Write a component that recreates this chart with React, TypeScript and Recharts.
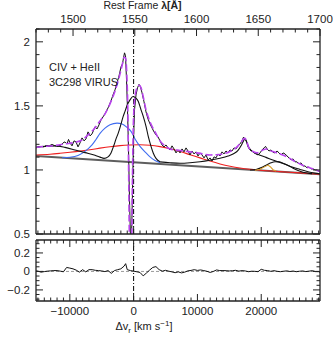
import React from 'react';
import { ComposedChart, Line, XAxis, YAxis, ReferenceLine } from 'recharts';

const C_KMS = 299792.458;
const LAM0 = 1549.06;
const toVel = (lam: number) => (lam / LAM0 - 1) * C_KMS;
const toLam = (v: number) => LAM0 * (1 + v / C_KMS);

const V_MIN = toVel(1470);
const V_MAX = toVel(1700);

// observed spectrum [velocity km/s, normalised flux]
const spectrum = [
  [-15295, 1.172], [-14984, 1.18], [-14514, 1.184], [-14044, 1.18], [-13730, 1.191], [-13260, 1.188],
  [-12790, 1.199], [-12320, 1.188], [-11850, 1.184], [-11380, 1.195], [-11066, 1.211], [-10753, 1.219],
  [-10439, 1.203], [-10204, 1.238], [-9969, 1.211], [-9655, 1.188], [-9342, 1.227], [-9028, 1.219],
  [-8715, 1.18], [-8401, 1.211], [-8088, 1.25], [-7774, 1.227], [-7461, 1.242], [-7147, 1.297],
  [-6834, 1.266], [-6520, 1.281], [-6050, 1.336], [-5737, 1.32], [-5423, 1.352], [-5110, 1.391],
  [-4796, 1.414], [-4483, 1.438], [-4013, 1.484], [-3542, 1.539], [-3229, 1.586], [-2915, 1.625],
  [-2602, 1.68], [-2288, 1.734], [-1975, 1.805], [-1740, 1.828], [-1583, 1.875], [-1426, 1.914],
  [-1270, 1.891], [-1113, 1.703], [-956, 1.469], [-799, 1.156], [-643, 0.766], [-486, 0.453],
  [-329, 0.453], [-172, 0.844], [-16, 1.234], [141, 1.469], [376, 1.586], [611, 1.641],
  [846, 1.668], [1081, 1.648], [1317, 1.602], [1630, 1.531], [1944, 1.453], [2257, 1.398],
  [2571, 1.359], [2884, 1.328], [3198, 1.297], [3511, 1.273], [3825, 1.258], [4138, 1.227],
  [4451, 1.195], [4765, 1.18], [5078, 1.195], [5392, 1.172], [5705, 1.156], [6019, 1.188],
  [6332, 1.164], [6646, 1.133], [6959, 1.156], [7273, 1.133], [7586, 1.164], [7900, 1.141],
  [8213, 1.172], [8527, 1.148], [8840, 1.117], [9154, 1.148], [9467, 1.125], [9781, 1.141],
  [10094, 1.109], [10408, 1.133], [10721, 1.117], [11034, 1.094], [11348, 1.117], [11661, 1.078],
  [11975, 1.094], [12289, 1.07], [12602, 1.102], [12916, 1.094], [13229, 1.125], [13542, 1.109],
  [13856, 1.141], [14169, 1.125], [14483, 1.148], [14796, 1.133], [15110, 1.156], [15423, 1.148],
  [15737, 1.172], [16050, 1.164], [16364, 1.188], [16677, 1.203], [16991, 1.227], [17226, 1.256],
  [17461, 1.242], [17696, 1.219], [17931, 1.18], [18245, 1.156], [18558, 1.148], [18872, 1.133],
  [19185, 1.125], [19499, 1.117], [19812, 1.133], [20126, 1.156], [20439, 1.172], [20674, 1.184],
  [20909, 1.164], [21223, 1.148], [21536, 1.156], [21850, 1.137], [22163, 1.133], [22477, 1.148],
  [22790, 1.133], [23104, 1.117], [23417, 1.133], [23731, 1.125], [24044, 1.109], [24358, 1.094],
  [24671, 1.078], [24985, 1.086], [25298, 1.063], [25612, 1.063], [25925, 1.047], [26239, 1.055],
  [26552, 1.031], [26866, 1.031], [27179, 1.016], [27493, 1.023], [27806, 1.008], [28120, 1.008],
  [28433, 1.0], [28747, 1.0], [29060, 0.988], [29212, 0.984],
];

// total model (dashed)
const modelTotal = [
  [-15295, 1.176], [-13887, 1.184], [-12320, 1.191], [-10753, 1.203], [-9185, 1.215], [-8088, 1.234],
  [-7147, 1.273], [-6207, 1.32], [-5267, 1.383], [-4483, 1.438], [-3699, 1.516], [-2915, 1.617],
  [-2288, 1.719], [-1818, 1.813], [-1505, 1.879], [-1270, 1.875], [-1066, 1.742], [-909, 1.469],
  [-784, 1.0], [-674, 0.5], [-486, 0.22], [-298, 0.5], [-188, 0.922], [-63, 1.313],
  [110, 1.516], [345, 1.609], [611, 1.648], [893, 1.66], [1160, 1.641], [1473, 1.578],
  [1944, 1.469], [2571, 1.375], [3354, 1.297], [4138, 1.227], [4922, 1.188], [5705, 1.164],
  [7273, 1.152], [8840, 1.141], [10408, 1.129], [11975, 1.117], [13542, 1.121], [14796, 1.137],
  [15737, 1.16], [16364, 1.188], [16834, 1.215], [17226, 1.242], [17461, 1.246], [17696, 1.227],
  [18009, 1.18], [18558, 1.148], [19342, 1.133], [20126, 1.152], [20753, 1.164], [21693, 1.145],
  [22947, 1.125], [24201, 1.098], [25298, 1.066], [26396, 1.039], [27649, 1.016], [29212, 0.988],
];

const continuum = [[-15295, 1.109], [29212, 0.966]];

const broadRed = [
  [-15295, 1.117], [-13103, 1.123], [-11536, 1.13], [-9969, 1.138], [-8401, 1.147], [-6834, 1.158],
  [-5267, 1.17], [-3699, 1.181], [-2132, 1.19], [-564, 1.195], [1003, 1.197], [2571, 1.193],
  [4138, 1.182], [5705, 1.166], [7273, 1.144], [8840, 1.119], [10408, 1.094], [11975, 1.069],
  [13542, 1.047], [15110, 1.029], [16677, 1.015], [18245, 1.005], [19812, 0.998], [22947, 0.987],
  [26082, 0.977], [29212, 0.966],
];

const civBlue = [
  [-11223, 1.095], [-9969, 1.099], [-8715, 1.113], [-7618, 1.145], [-6520, 1.195], [-5893, 1.238],
  [-5267, 1.285], [-4483, 1.326], [-3699, 1.352], [-2602, 1.365], [-1818, 1.359], [-1034, 1.332],
  [-408, 1.301], [219, 1.242], [1003, 1.184], [1944, 1.133], [2571, 1.102], [3354, 1.074], [4138, 1.057],
];

const civBlack = [
  [-15295, 1.177], [-13887, 1.184], [-12320, 1.188], [-10753, 1.176], [-9185, 1.156], [-7618, 1.135],
  [-6050, 1.115], [-5267, 1.1], [-4640, 1.09], [-4013, 1.102], [-3542, 1.133], [-3072, 1.195],
  [-2759, 1.242], [-2398, 1.289], [-1975, 1.359], [-1661, 1.414], [-1348, 1.457], [-956, 1.512],
  [-564, 1.547], [-94, 1.573], [376, 1.559], [737, 1.534], [1160, 1.469], [1520, 1.416],
  [1944, 1.34], [2304, 1.26], [2727, 1.184], [3088, 1.13], [3511, 1.09], [4138, 1.064],
];

const heII = [
  [4138, 1.063], [5705, 1.056], [7273, 1.052], [8840, 1.056], [10408, 1.064], [11975, 1.076],
  [13542, 1.091], [14796, 1.108], [15737, 1.128], [16364, 1.152], [16834, 1.188], [17226, 1.227],
  [17461, 1.244], [17696, 1.223], [18009, 1.18], [18401, 1.152], [19029, 1.133], [19812, 1.115],
  [20753, 1.098], [21693, 1.08], [22634, 1.064], [23731, 1.045], [24828, 1.023], [26082, 1.004],
  [27336, 0.986], [28433, 0.975], [29212, 0.969],
];

const oIII = [
  [18245, 1.0], [19185, 1.004], [20126, 1.02], [20909, 1.041], [21536, 1.056], [22163, 1.064],
  [22790, 1.063], [23417, 1.052], [24201, 1.035], [24985, 1.014], [25768, 0.996], [26552, 0.982],
  [27336, 0.974], [27963, 0.971],
];

const narrowOrange = [
  [19029, 0.998], [19812, 1.006], [20439, 1.022], [21066, 1.038], [21458, 1.023], [21850, 1.002], [22320, 0.991],
];

// residuals [velocity, data - model]
const residual = [
  [-15295, 0.006], [-15000, 0.003], [-14500, -0.008], [-14000, -0.002], [-13500, 0.003], [-13000, 0.006],
  [-12500, 0.009], [-12000, 0.009], [-11500, 0.003], [-11000, -0.004], [-10500, 0.043], [-10000, 0.036],
  [-9500, 0.028], [-9000, 0.014], [-8500, -0.008], [-8000, 0.019], [-7500, -0.005], [-7000, 0.019],
  [-6500, 0.019], [-6000, 0.012], [-5500, 0.009], [-5000, 0.005], [-4500, -0.002], [-4000, 0.009],
  [-3500, -0.021], [-3000, 0.009], [-2500, 0.019], [-2000, 0.028], [-1500, 0.057], [-1250, 0.084],
  [-1000, 0.019], [-500, 0.009], [0, 0.003], [500, -0.004], [1000, -0.011], [1500, -0.048],
  [2000, -0.018], [2500, 0.014], [3000, 0.043], [3500, 0.052], [4000, 0.019], [4500, 0.003],
  [5000, 0.012], [5500, 0.003], [6000, -0.005], [6500, -0.014], [7000, -0.005], [7500, -0.016],
  [8000, -0.008], [8500, 0.006], [9000, 0.011], [9500, 0.019], [10000, 0.011], [10500, 0.016],
  [11000, 0.009], [11500, 0.001], [12000, -0.011], [12500, 0.0], [13000, 0.016], [13500, 0.009],
  [14000, 0.009], [14500, 0.008], [15000, 0.005], [15500, 0.008], [16000, 0.012], [16500, 0.003],
  [17000, 0.009], [17500, 0.005], [18000, -0.003], [18500, 0.002], [19000, 0.001], [19500, -0.003],
  [20000, 0.023], [20500, 0.012], [21000, 0.009], [21500, 0.001], [22000, 0.008], [22500, 0.001],
  [23000, -0.003], [23500, 0.002], [24000, 0.006], [24500, -0.001], [25000, 0.004], [25500, -0.003],
  [26000, 0.002], [26500, 0.005], [27000, -0.002], [27500, 0.003], [28000, 0.008], [28500, -0.002],
  [29000, -0.003], [29212, -0.011],
];

// axis ticks
const lamTicks = [1470, 1480, 1490, 1500, 1510, 1520, 1530, 1540, 1550, 1560, 1570, 1580, 1590, 1600,
  1610, 1620, 1630, 1640, 1650, 1660, 1670, 1680, 1690, 1700];
const lamMajor = [1500, 1550, 1600, 1650, 1700];
const velTicks = [-15000, -14000, -13000, -12000, -11000, -10000, -9000, -8000, -7000, -6000, -5000,
  -4000, -3000, -2000, -1000, 0, 1000, 2000, 3000, 4000, 5000, 6000, 7000, 8000, 9000, 10000, 11000,
  12000, 13000, 14000, 15000, 16000, 17000, 18000, 19000, 20000, 21000, 22000, 23000, 24000, 25000,
  26000, 27000, 28000, 29000];
const velMajor = [-10000, 0, 10000, 20000];
const fluxTicks = [0.5, 0.6, 0.7, 0.8, 0.9, 1, 1.1, 1.2, 1.3, 1.4, 1.5, 1.6, 1.7, 1.8, 1.9, 2, 2.1];
const fluxMajor = [0.5, 1, 1.5, 2];
const residTicks = [-0.3, -0.25, -0.2, -0.15, -0.1, -0.05, 0, 0.05, 0.1, 0.15, 0.2, 0.25, 0.3];
const residMajor = [-0.2, 0, 0.2];

const pts = (a: number[][]) => a.map(([v, f]) => ({ v, f }));

const INK = '#222';
const FONT = '"Liberation Sans", Arial, Helvetica, sans-serif';
const minus = (s: string) => s.replace('-', '\u2212');

type Side = 'top' | 'bottom' | 'left' | 'right';

const makeTick = (side: Side, majors: number[], fmt: ((v: number) => string) | null) => (props: any) => {
  const { x, y, payload } = props;
  const val = payload.value;
  const major = majors.some((m) => Math.abs(m - val) < 1e-3);
  const len = major ? 7 : 3.5;
  let x2 = x;
  let y2 = y;
  if (side === 'bottom') y2 = y - len;
  if (side === 'top') y2 = y + len;
  if (side === 'left') x2 = x + len;
  if (side === 'right') x2 = x - len;
  let label = null;
  if (major && fmt) {
    const txt = fmt(val);
    if (side === 'bottom')
      label = <text x={x} y={y + 14} textAnchor="middle" fontSize={11.5} fontFamily={FONT} fill={INK}>{txt}</text>;
    if (side === 'top')
      label = <text x={x} y={y - 6} textAnchor="middle" fontSize={11.5} fontFamily={FONT} fill={INK}>{txt}</text>;
    if (side === 'left')
      label = <text x={x - 6} y={y + 4} textAnchor="end" fontSize={11.5} fontFamily={FONT} fill={INK}>{txt}</text>;
  }
  return (
    <g>
      <line x1={x} y1={y} x2={x2} y2={y2} stroke={INK} strokeWidth={1} />
      {label}
    </g>
  );
};

const axisLine = { stroke: INK, strokeWidth: 1.3 };
const lamTickVel = lamTicks.map(toVel);
const lamMajorVel = lamMajor.map(toVel);

export default function App() {
  return (
    <div style={{ position: 'absolute', left: 0, top: 0, width: 333, height: 338, background: '#fff' }}>
      <div style={{ position: 'absolute', left: 0, top: 0 }}>
        <ComposedChart width={333} height={241} margin={{ top: 0, right: 0, bottom: 0, left: 0 }}>
          <XAxis xAxisId="b" dataKey="v" type="number" domain={[V_MIN, V_MAX]} allowDataOverflow
            ticks={velTicks} interval={0} height={7} tickSize={0} tickMargin={0} axisLine={axisLine}
            tickLine={false} tick={makeTick('bottom', velMajor, null)} />
          <XAxis xAxisId="t" orientation="top" dataKey="v" type="number" domain={[V_MIN, V_MAX]} allowDataOverflow
            ticks={lamTickVel} interval={0} height={29} tickSize={0} tickMargin={0} axisLine={axisLine}
            tickLine={false} tick={makeTick('top', lamMajorVel, (v) => String(Math.round(toLam(v))))} />
          <YAxis yAxisId="l" type="number" domain={[0.5, 2.1]} allowDataOverflow ticks={fluxTicks} interval={0}
            width={36} tickSize={0} tickMargin={0} axisLine={axisLine} tickLine={false}
            tick={makeTick('left', fluxMajor, (v) => String(v))} />
          <YAxis yAxisId="r" orientation="right" type="number" domain={[0.5, 2.1]} allowDataOverflow ticks={fluxTicks}
            interval={0} width={13} tickSize={0} tickMargin={0} axisLine={axisLine} tickLine={false}
            tick={makeTick('right', fluxMajor, null)} />
          <ReferenceLine xAxisId="b" yAxisId="l" x={0} stroke="#000" strokeWidth={1} strokeDasharray="5 2 1 2" />
          <Line xAxisId="t" yAxisId="r" data={pts(continuum)} dataKey="f" stroke="#5e5e5e" strokeWidth={1.9}
            dot={false} isAnimationActive={false} type="linear" />
          <Line xAxisId="b" yAxisId="l" data={pts(broadRed)} dataKey="f" stroke="#ee2020" strokeWidth={1.1}
            dot={false} isAnimationActive={false} type="monotone" />
          <Line xAxisId="b" yAxisId="l" data={pts(civBlue)} dataKey="f" stroke="#3f6cf0" strokeWidth={1.1}
            dot={false} isAnimationActive={false} type="monotone" />
          <Line xAxisId="b" yAxisId="l" data={pts(civBlack)} dataKey="f" stroke="#111" strokeWidth={1.1}
            dot={false} isAnimationActive={false} type="monotone" />
          <Line xAxisId="b" yAxisId="l" data={pts(heII)} dataKey="f" stroke="#111" strokeWidth={1.1}
            dot={false} isAnimationActive={false} type="monotone" />
          <Line xAxisId="b" yAxisId="l" data={pts(oIII)} dataKey="f" stroke="#111" strokeWidth={1.1}
            dot={false} isAnimationActive={false} type="monotone" />
          <Line xAxisId="b" yAxisId="l" data={pts(narrowOrange)} dataKey="f" stroke="#d9a02c" strokeWidth={1.1}
            dot={false} isAnimationActive={false} type="linear" />
          <Line xAxisId="b" yAxisId="l" data={pts(spectrum)} dataKey="f" stroke="#111" strokeWidth={1}
            dot={false} isAnimationActive={false} type="linear" />
          <Line xAxisId="b" yAxisId="l" data={pts(modelTotal)} dataKey="f" stroke="#b844ec" strokeWidth={1.6}
            strokeDasharray="7 3" dot={false} isAnimationActive={false} type="monotone" />
        </ComposedChart>
      </div>
      <div style={{ position: 'absolute', left: 0, top: 236 }}>
        <ComposedChart width={333} height={102} margin={{ top: 0, right: 0, bottom: 0, left: 0 }}>
          <XAxis xAxisId="b" dataKey="v" type="number" domain={[V_MIN, V_MAX]} allowDataOverflow
            ticks={velTicks} interval={0} height={37} tickSize={0} tickMargin={0} axisLine={axisLine}
            tickLine={false} tick={makeTick('bottom', velMajor, (v) => minus(String(v)))} />
          <XAxis xAxisId="t" orientation="top" dataKey="v" type="number" domain={[V_MIN, V_MAX]} allowDataOverflow
            ticks={velTicks} interval={0} height={4} tickSize={0} tickMargin={0} axisLine={axisLine}
            tickLine={false} tick={makeTick('top', velMajor, null)} />
          <YAxis yAxisId="l" type="number" domain={[-0.32, 0.34]} allowDataOverflow ticks={residTicks} interval={0}
            width={36} tickSize={0} tickMargin={0} axisLine={axisLine} tickLine={false}
            tick={makeTick('left', residMajor, (v) => minus(String(v)))} />
          <YAxis yAxisId="r" orientation="right" type="number" domain={[-0.32, 0.34]} allowDataOverflow
            ticks={residTicks} interval={0} width={13} tickSize={0} tickMargin={0} axisLine={axisLine}
            tickLine={false} tick={makeTick('right', residMajor, null)} />
          <ReferenceLine xAxisId="b" yAxisId="l" y={0} stroke="#9a9a9a" strokeWidth={1} strokeDasharray="3 2" />
          <ReferenceLine xAxisId="b" yAxisId="l" x={0} stroke="#000" strokeWidth={1} strokeDasharray="5 2 1 2" />
          <Line xAxisId="t" yAxisId="r" data={pts(residual)} dataKey="f" stroke="#111" strokeWidth={1}
            dot={false} isAnimationActive={false} type="linear" />
        </ComposedChart>
      </div>
      <svg width={333} height={338} style={{ position: 'absolute', left: 0, top: 0, pointerEvents: 'none' }}>
        <text x={142.5} y={9} textAnchor="middle" fontSize={10.5} fontFamily={FONT} fill={INK}>
          Rest Frame <tspan fontWeight="bold">λ[Å]</tspan>
        </text>
        <text x={49} y={70.5} fontSize={11} fontFamily={FONT} fill={INK}>CIV  +  HeII</text>
        <text x={49} y={86} fontSize={11} fontFamily={FONT} fill={INK}>3C298 VIRUS</text>
        <text x={144} y={330} textAnchor="middle" fontSize={11} fontFamily={FONT} fill={INK}>
          Δv<tspan fontSize={8} dy={2.5}>r</tspan><tspan dy={-2.5}> [km s</tspan>
          <tspan fontSize={8} dy={-4}>−1</tspan><tspan dy={4}>]</tspan>
        </text>
      </svg>
    </div>
  );
}
